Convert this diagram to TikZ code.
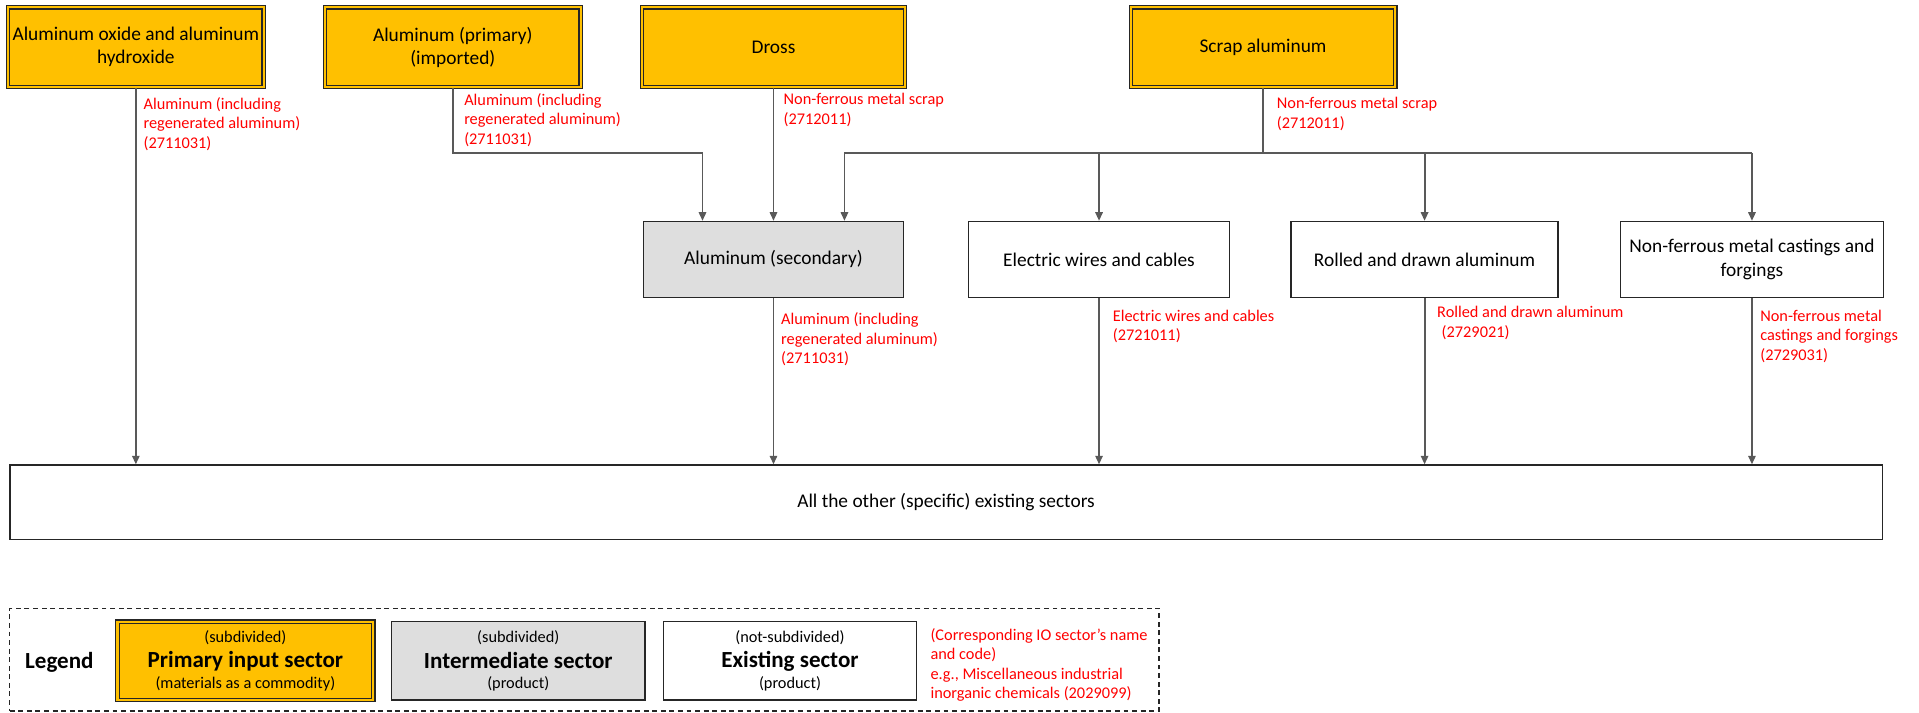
\documentclass[tikz,border=0pt]{standalone}
\usepackage{fontspec}
\setmainfont{Carlito}
\usetikzlibrary{arrows.meta,calc}
\definecolor{gold}{HTML}{FFC000}
\definecolor{midgray}{HTML}{DEDEDE}
\definecolor{conncol}{HTML}{595959}
\definecolor{lblred}{HTML}{FF0000}
\definecolor{edgecol}{HTML}{262626}
\begin{document}
\begin{tikzpicture}[x=0.6pt,y=-0.6pt,
  boxfont/.style={font=\fontsize{9.5}{11.4}\selectfont},
  primbox/.style={boxfont, draw=edgecol, double=gold, double distance=1.1pt, line width=0.6pt, fill=gold, align=center, inner sep=0pt, minimum height=39pt},
  interbox/.style={boxfont, draw=edgecol, line width=0.7pt, fill=midgray, align=center, inner sep=0pt, minimum height=37.2pt, minimum width=127.2pt},
  existbox/.style={boxfont, draw=edgecol, line width=0.7pt, fill=white, align=center, inner sep=0pt, minimum height=37.2pt, minimum width=127.2pt},
  redlbl/.style={font=\fontsize{8}{9.6}\selectfont, text=lblred, align=left, inner sep=0pt, anchor=north west},
  link/.style={draw=conncol, line width=0.9pt},
  conn/.style={link, -{Triangle[length=4.2pt,width=3.6pt]}},
  legsmall/.style={font=\fontsize{8}{9.6}\selectfont, inner sep=0pt},
  legbold/.style={font=\bfseries\fontsize{11.3}{13}\selectfont, inner sep=0pt},
]
\useasboundingbox (0,0) rectangle (1568,582);

% top row
\node[primbox, minimum width=125.4pt] (b1) at (111,38.5) {Aluminum oxide and aluminum\\hydroxide};
\node[primbox, minimum width=125.4pt] (b2) at (370,38.5) {Aluminum (primary)\\(imported)};
\node[primbox, minimum width=129pt] (dross) at (632,38.5) {Dross};
\node[primbox, minimum width=129.6pt] (scrap) at (1032,38.5) {Scrap aluminum};

% second row
\node[interbox] (sec) at (632,212) {Aluminum (secondary)};
\node[existbox, minimum width=127.8pt] (elec) at (898,212) {Electric wires and cables};
\node[existbox, minimum width=130.8pt] (roll) at (1164,212) {Rolled and drawn aluminum};
\node[existbox, minimum width=129pt] (cast) at (1431.5,212) {Non-ferrous metal castings and\\forgings};

% bottom
\node[existbox, minimum width=918pt, minimum height=36.6pt] (all) at (773,410.5) {All the other (specific) existing sectors};

% connectors
\coordinate (hy) at (0,125);
\coordinate (secinL) at ($(sec.north)+(-58,0)$);
\coordinate (secinR) at ($(sec.north)+(58,0)$);
\draw[link] (b2.south) |- (secinL |- hy);
\draw[conn] (secinL |- hy) -- (secinL);
\draw[conn] (dross.south) -- (sec.north);
\draw[link] (scrap.south) -- (scrap.south |- hy);
\draw[link] (secinR |- hy) -- (cast.north |- hy);
\draw[conn] (secinR |- hy) -- (secinR);
\draw[conn] (elec.north |- hy) -- (elec.north);
\draw[conn] (roll.north |- hy) -- (roll.north);
\draw[conn] (cast.north |- hy) -- (cast.north);

\draw[conn] (b1.south) -- (b1.south |- all.north);
\draw[conn] (sec.south) -- (sec.south |- all.north);
\draw[conn] (elec.south) -- (elec.south |- all.north);
\draw[conn] (roll.south) -- (roll.south |- all.north);
\draw[conn] (cast.south) -- (cast.south |- all.north);

% red labels
\node[redlbl] (lb1) at (117,79) {Aluminum (including\\regenerated aluminum)\\(2711031)};
\node[redlbl] (lb2) at (379,76) {Aluminum (including\\regenerated aluminum)\\(2711031)};
\node[redlbl] (ldross) at (640,76) {Non-ferrous metal scrap\\(2712011)};
\node[redlbl] (lscrap) at (1043,79) {Non-ferrous metal scrap\\(2712011)};
\node[redlbl] (lsec) at (638,255) {Aluminum (including\\regenerated aluminum)\\(2711031)};
\node[redlbl] (lelec) at (909,253) {Electric wires and cables\\(2721011)};
\node[redlbl] (lroll) at (1174,250) {Rolled and drawn aluminum\\\hspace*{2.2pt}(2729021)};
\node[redlbl] (lcast) at (1438,253) {Non-ferrous metal\\castings and forgings\\(2729031)};

% legend
\node[draw=edgecol, line width=0.6pt, dash pattern=on 2.4pt off 1.8pt, minimum width=563.4pt, minimum height=50.4pt, inner sep=0pt] (legendbox) at (477.5,539) {};
\node[legbold] (legtitle) at (48.5,541) {Legend};
\node[primbox, minimum width=125.4pt, minimum height=38.4pt] (lprim) at (200.5,540) {};
\node[interbox, minimum width=124.2pt, minimum height=38.4pt] (linter) at (423.5,540) {};
\node[existbox, minimum width=124.2pt, minimum height=38.4pt] (lexist) at (645.5,540) {};
\node[legbold] (lprimt) at (lprim.center) {Primary input sector};
\node[legsmall] (lprima) at ($(lprim.center)+(0,-19)$) {(subdivided)};
\node[legsmall] (lprimb) at ($(lprim.center)+(0,19)$) {(materials as a commodity)};
\node[legbold] (lintert) at (linter.center) {Intermediate sector};
\node[legsmall] (lintera) at ($(linter.center)+(0,-19)$) {(subdivided)};
\node[legsmall] (linterb) at ($(linter.center)+(0,19)$) {(product)};
\node[legbold] (lexistt) at (lexist.center) {Existing sector};
\node[legsmall] (lexista) at ($(lexist.center)+(0,-19)$) {(not-subdivided)};
\node[legsmall] (lexistb) at ($(lexist.center)+(0,19)$) {(product)};
\node[redlbl] (lred) at (760,513) {(Corresponding IO sector’s name\\and code)\\e.g., Miscellaneous industrial\\inorganic chemicals (2029099)};
\end{tikzpicture}
\end{document}
